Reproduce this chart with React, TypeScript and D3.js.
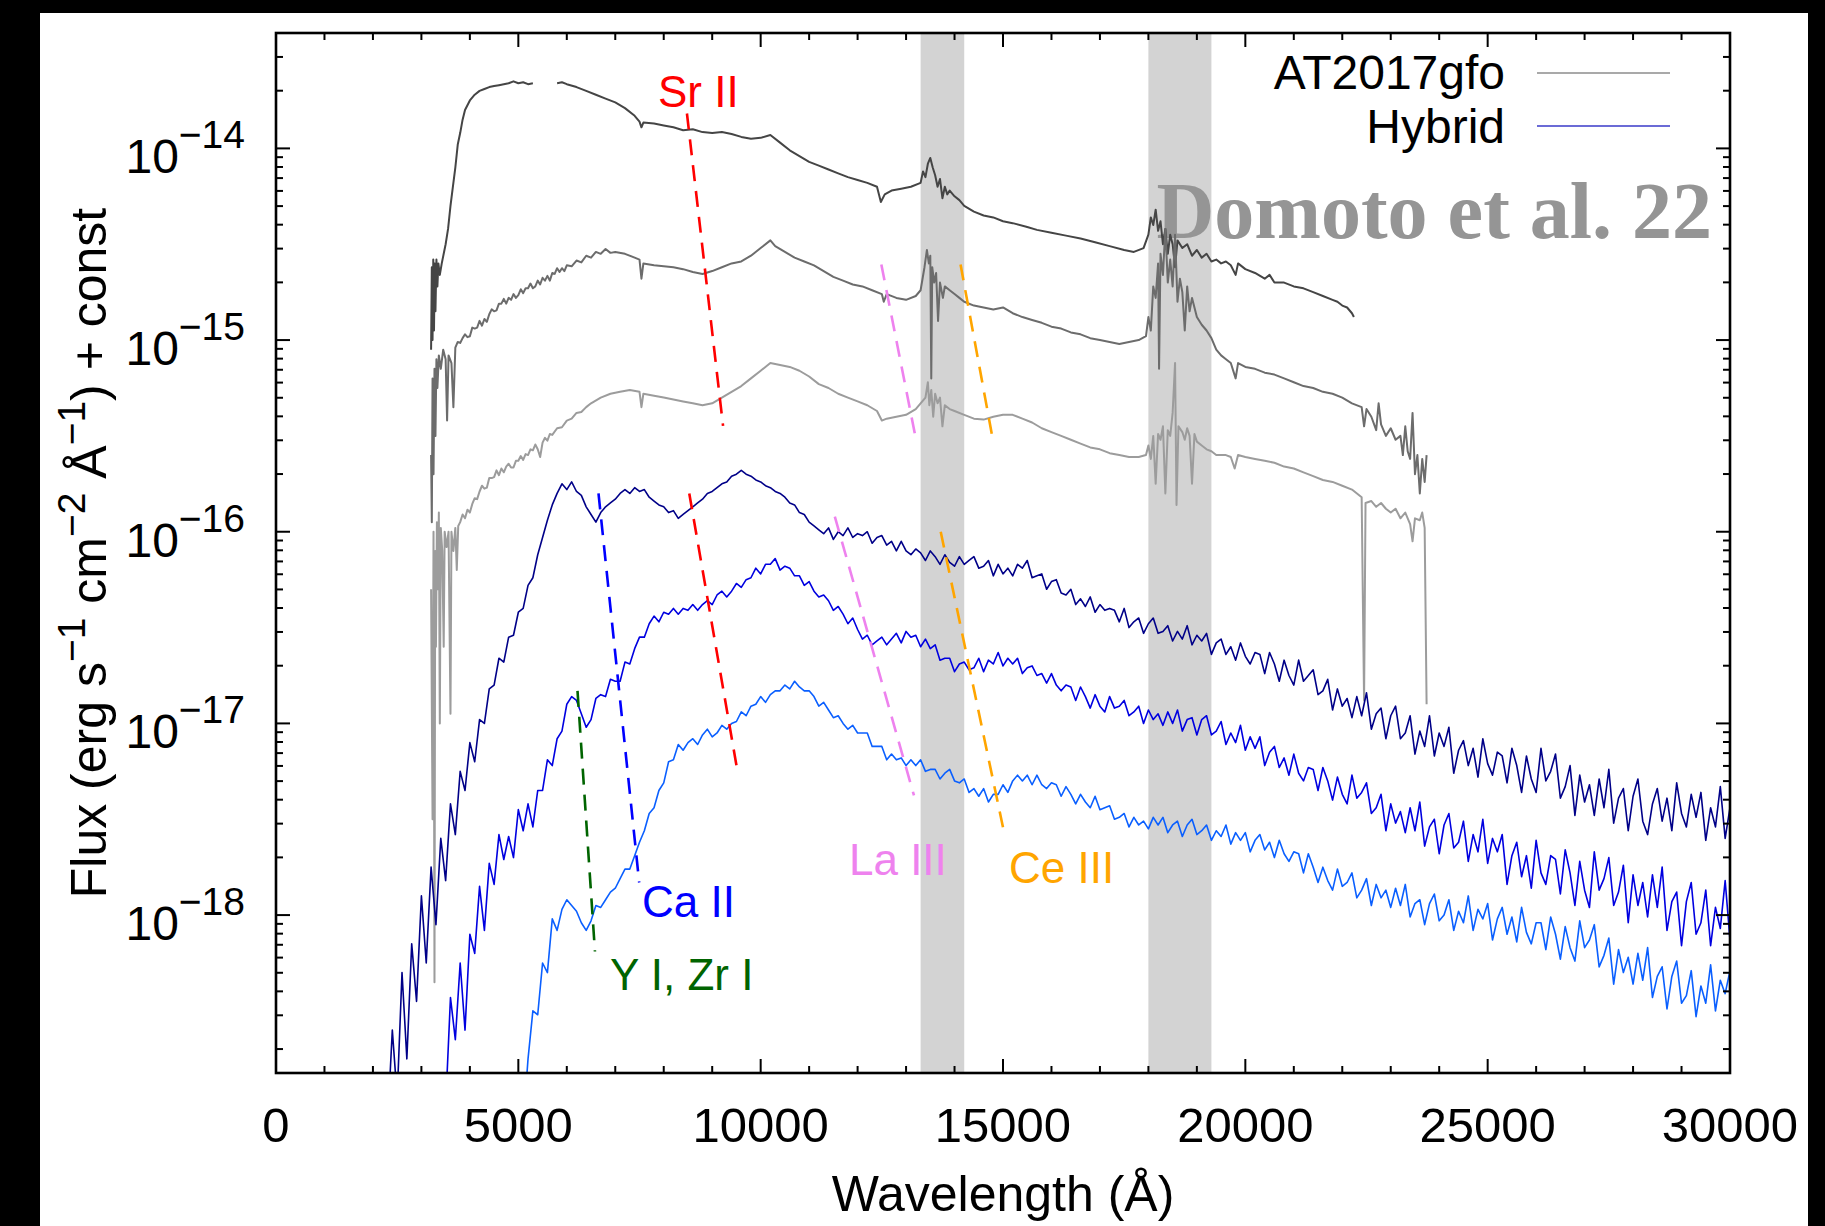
import React from "react";
import * as d3 from "d3";

// ---------------- DATA ----------------
const xDomain: [number, number] = [0, 30000];
const yDomain: [number, number] = [1.5e-19, 4e-14];
const xMajorTicks = [0, 5000, 10000, 15000, 20000, 25000, 30000];
const xTickLabels = ["0", "5000", "10000", "15000", "20000", "25000", "30000"];
const yLabelExponents = [-14, -15, -16, -17, -18];
const yTickLabels = ["−14", "−15", "−16", "−17", "−18"];
const telluricBands: [number, number][] = [[13300, 14200], [18000, 19300]];

// AT2017gfo spectra: [wavelength (Å), log10 flux]
const at2017gfoEpoch1: [number, number | null][] = [
[3200,-15.05],[3215,-14.62],[3230,-15.0],[3245,-14.58],[3260,-14.95],[3275,-14.6],[3290,-14.85],[3310,-14.58],[3330,-14.72],[3350,-14.6],[3380,-14.66],[3420,-14.6],[3460,-14.55],[3500,-14.5],[3550,-14.42],[3600,-14.3],[3650,-14.2],[3700,-14.1],[3750,-13.98],[3800,-13.92],[3850,-13.85],[3900,-13.8],[4000,-13.75],[4100,-13.72],[4200,-13.7],[4300,-13.69],[4400,-13.68],[4500,-13.675],[4600,-13.67],[4700,-13.665],[4800,-13.66],[4900,-13.65],[5000,-13.66],[5100,-13.655],[5200,-13.665],[5300,-13.66],[5500,null],[5800,-13.66],[5900,-13.655],[6000,-13.665],[6200,-13.68],[6400,-13.7],[6600,-13.72],[6800,-13.74],[7000,-13.76],[7200,-13.79],[7400,-13.83],[7500,-13.86],[7540,-13.89],[7580,-13.865],[7800,-13.87],[8000,-13.88],[8200,-13.89],[8400,-13.905],[8600,-13.9],[8800,-13.915],[9000,-13.92],[9200,-13.915],[9400,-13.925],[9600,-13.94],[9800,-13.95],[10000,-13.945],[10200,-13.93],[10400,-13.97],[10600,-14.01],[10800,-14.04],[11000,-14.07],[11200,-14.09],[11400,-14.11],[11600,-14.13],[11800,-14.15],[12000,-14.165],[12200,-14.18],[12400,-14.2],[12480,-14.28],[12560,-14.24],[12700,-14.22],[12900,-14.21],[13100,-14.2],[13300,-14.18],[13350,-14.12],[13400,-14.15],[13450,-14.08],[13500,-14.05],[13550,-14.1],[13600,-14.14],[13650,-14.2],[13700,-14.16],[13750,-14.26],[13800,-14.2],[13850,-14.24],[13900,-14.22],[14000,-14.25],[14100,-14.27],[14200,-14.3],[14400,-14.33],[14600,-14.35],[14800,-14.36],[15000,-14.38],[15200,-14.39],[15500,-14.41],[15700,-14.425],[16000,-14.44],[16300,-14.455],[16600,-14.47],[16900,-14.49],[17200,-14.51],[17500,-14.53],[17700,-14.54],[17900,-14.52],[18000,-14.45],[18050,-14.36],[18100,-14.4],[18150,-14.32],[18200,-14.43],[18250,-14.38],[18300,-14.5],[18350,-14.42],[18400,-14.55],[18450,-14.45],[18500,-14.5],[18550,-14.62],[18600,-14.48],[18700,-14.52],[18800,-14.5],[18900,-14.56],[19000,-14.53],[19100,-14.57],[19200,-14.55],[19300,-14.59],[19400,-14.58],[19500,-14.6],[19600,-14.59],[19700,-14.61],[19800,-14.66],[19850,-14.6],[20000,-14.63],[20200,-14.65],[20400,-14.68],[20500,-14.66],[20600,-14.7],[20800,-14.7],[21000,-14.72],[21200,-14.73],[21400,-14.75],[21600,-14.77],[21800,-14.79],[21900,-14.8],[22000,-14.82],[22100,-14.83],[22200,-14.86],[22240,-14.88]
];

const at2017gfoEpoch2: [number, number | null][] = [
[3200,-15.6],[3215,-15.95],[3230,-15.2],[3250,-15.7],[3270,-15.15],[3290,-15.5],[3310,-15.1],[3330,-15.25],[3360,-15.08],[3400,-15.15],[3450,-15.05],[3500,-15.1],[3530,-15.42],[3560,-15.08],[3620,-15.12],[3660,-15.35],[3700,-15.04],[3750,-15.01],[3800,-15.015],[3850,-14.99],[3900,-14.97],[3950,-14.985],[4000,-14.98],[4050,-14.935],[4100,-14.94],[4150,-14.935],[4200,-14.9],[4250,-14.925],[4300,-14.89],[4350,-14.905],[4400,-14.865],[4450,-14.84],[4500,-14.85],[4550,-14.845],[4600,-14.81],[4650,-14.81],[4700,-14.785],[4750,-14.81],[4800,-14.78],[4850,-14.79],[4900,-14.76],[4950,-14.78],[5000,-14.765],[5050,-14.735],[5100,-14.755],[5150,-14.73],[5200,-14.73],[5250,-14.705],[5300,-14.73],[5350,-14.72],[5400,-14.69],[5450,-14.71],[5500,-14.675],[5550,-14.69],[5600,-14.665],[5650,-14.69],[5700,-14.65],[5750,-14.655],[5800,-14.625],[5850,-14.645],[5900,-14.625],[5950,-14.64],[6000,-14.61],[6100,-14.615],[6200,-14.585],[6300,-14.595],[6400,-14.56],[6500,-14.57],[6600,-14.54],[6700,-14.55],[6800,-14.525],[6900,-14.545],[7000,-14.54],[7200,-14.55],[7400,-14.57],[7500,-14.58],[7540,-14.68],[7580,-14.6],[7800,-14.61],[8000,-14.615],[8200,-14.62],[8400,-14.63],[8600,-14.645],[8800,-14.655],[9000,-14.64],[9200,-14.62],[9400,-14.6],[9600,-14.59],[9800,-14.56],[10000,-14.52],[10200,-14.48],[10300,-14.51],[10500,-14.54],[10700,-14.57],[10900,-14.59],[11100,-14.61],[11300,-14.64],[11500,-14.67],[11700,-14.69],[11900,-14.71],[12100,-14.72],[12300,-14.74],[12500,-14.76],[12540,-14.8],[12600,-14.76],[12800,-14.78],[13000,-14.79],[13200,-14.77],[13300,-14.74],[13380,-14.62],[13430,-14.53],[13470,-14.6],[13500,-14.56],[13520,-15.2],[13540,-14.62],[13580,-14.7],[13620,-14.65],[13660,-14.9],[13700,-14.7],[13760,-14.78],[13800,-14.72],[13900,-14.74],[14000,-14.76],[14100,-14.78],[14200,-14.8],[14400,-14.82],[14600,-14.83],[14800,-14.84],[15000,-14.83],[15200,-14.86],[15400,-14.88],[15600,-14.895],[15800,-14.91],[16000,-14.93],[16200,-14.94],[16400,-14.96],[16600,-14.97],[16800,-14.99],[17000,-15.0],[17200,-15.01],[17400,-15.02],[17600,-15.01],[17800,-15.0],[17950,-14.98],[18000,-14.88],[18050,-14.95],[18100,-14.72],[18150,-14.78],[18200,-14.6],[18220,-15.15],[18250,-14.55],[18300,-14.66],[18350,-14.42],[18400,-14.7],[18450,-14.58],[18500,-14.72],[18550,-14.45],[18600,-14.8],[18650,-14.68],[18700,-14.75],[18750,-14.95],[18800,-14.72],[18850,-14.85],[18900,-14.78],[19000,-14.88],[19100,-14.92],[19200,-14.95],[19300,-14.99],[19400,-15.05],[19500,-15.08],[19600,-15.1],[19700,-15.12],[19800,-15.2],[19850,-15.12],[20000,-15.14],[20200,-15.15],[20400,-15.17],[20600,-15.18],[20800,-15.2],[21000,-15.22],[21200,-15.24],[21400,-15.25],[21600,-15.27],[21800,-15.28],[22000,-15.3],[22200,-15.33],[22400,-15.35],[22450,-15.45],[22500,-15.36],[22600,-15.4],[22700,-15.47],[22750,-15.33],[22800,-15.44],[22900,-15.5],[23000,-15.46],[23100,-15.52],[23200,-15.5],[23250,-15.6],[23300,-15.45],[23350,-15.58],[23400,-15.62],[23450,-15.38],[23500,-15.7],[23550,-15.6],[23600,-15.8],[23650,-15.62],[23700,-15.74],[23740,-15.6]
];

const at2017gfoEpoch3: [number, number | null][] = [
[3200,-16.3],[3230,-17.5],[3250,-16.0],[3270,-18.35],[3285,-16.1],[3300,-16.6],[3320,-15.95],[3340,-16.3],[3360,-15.9],[3380,-17.0],[3400,-15.98],[3430,-16.1],[3460,-16.6],[3480,-16.0],[3520,-16.08],[3560,-16.0],[3600,-16.95],[3620,-16.0],[3660,-16.1],[3700,-15.98],[3730,-16.2],[3760,-15.97],[3800,-15.95],[3850,-15.91],[3900,-15.93],[3950,-15.885],[4000,-15.9],[4050,-15.855],[4100,-15.825],[4150,-15.83],[4200,-15.79],[4250,-15.76],[4300,-15.775],[4350,-15.77],[4400,-15.72],[4450,-15.72],[4500,-15.715],[4550,-15.68],[4600,-15.705],[4650,-15.67],[4700,-15.69],[4750,-15.66],[4800,-15.645],[4850,-15.665],[4900,-15.665],[4950,-15.63],[5000,-15.63],[5050,-15.605],[5100,-15.625],[5150,-15.595],[5200,-15.6],[5250,-15.57],[5300,-15.575],[5350,-15.545],[5400,-15.57],[5450,-15.61],[5500,-15.535],[5550,-15.51],[5600,-15.525],[5650,-15.49],[5700,-15.495],[5800,-15.46],[5900,-15.455],[6000,-15.42],[6100,-15.41],[6200,-15.38],[6300,-15.375],[6400,-15.35],[6500,-15.33],[6700,-15.3],[6900,-15.28],[7100,-15.27],[7300,-15.26],[7500,-15.27],[7540,-15.35],[7580,-15.28],[7800,-15.29],[8000,-15.3],[8200,-15.31],[8400,-15.32],[8600,-15.33],[8800,-15.34],[9000,-15.33],[9200,-15.3],[9400,-15.27],[9600,-15.24],[9800,-15.2],[10000,-15.16],[10200,-15.12],[10400,-15.13],[10600,-15.14],[10800,-15.16],[11000,-15.19],[11200,-15.23],[11400,-15.25],[11600,-15.28],[11800,-15.3],[12000,-15.32],[12200,-15.34],[12400,-15.37],[12500,-15.42],[12600,-15.41],[12800,-15.4],[13000,-15.39],[13200,-15.36],[13300,-15.33],[13400,-15.3],[13450,-15.22],[13480,-15.34],[13520,-15.26],[13560,-15.4],[13600,-15.28],[13650,-15.33],[13700,-15.3],[13750,-15.45],[13800,-15.34],[13900,-15.36],[14000,-15.37],[14200,-15.39],[14400,-15.41],[14600,-15.415],[14800,-15.4],[15000,-15.39],[15200,-15.39],[15400,-15.41],[15600,-15.43],[15800,-15.46],[16000,-15.48],[16200,-15.5],[16400,-15.52],[16600,-15.54],[16800,-15.56],[17000,-15.57],[17200,-15.59],[17400,-15.6],[17600,-15.61],[17800,-15.61],[17950,-15.6],[18000,-15.55],[18050,-15.62],[18100,-15.5],[18150,-15.75],[18200,-15.49],[18250,-15.52],[18300,-15.45],[18350,-15.8],[18400,-15.47],[18450,-15.5],[18500,-15.38],[18550,-15.12],[18580,-15.86],[18620,-15.45],[18700,-15.48],[18750,-15.52],[18800,-15.46],[18850,-15.5],[18900,-15.75],[18950,-15.49],[19000,-15.53],[19100,-15.55],[19200,-15.57],[19300,-15.58],[19400,-15.6],[19600,-15.6],[19700,-15.61],[19780,-15.67],[19850,-15.6],[20000,-15.61],[20200,-15.62],[20400,-15.63],[20600,-15.64],[20800,-15.66],[21000,-15.67],[21200,-15.69],[21400,-15.71],[21600,-15.73],[21800,-15.74],[22000,-15.76],[22200,-15.78],[22400,-15.82],[22450,-16.88],[22480,-15.85],[22600,-15.84],[22700,-15.87],[22800,-15.85],[22900,-15.88],[23000,-15.9],[23100,-15.88],[23200,-15.93],[23300,-15.9],[23400,-15.96],[23450,-16.05],[23500,-15.93],[23600,-15.94],[23650,-15.9],[23700,-15.98],[23740,-16.9]
];

// Hybrid model spectra, sampled every 100 Å: log10 flux
const gridStep = 100;
const hybridAStart = 2300;
const hybridA = [
-19.1,-18.6,-18.95,-18.3,-18.75,-18.15,-18.45,-17.9,-18.25,-17.75,
-18.05,-17.6,-17.82,-17.42,-17.58,-17.25,-17.35,-17.1,-17.2,-16.98,
-17.0,-16.82,-16.8,-16.66,-16.68,-16.55,-16.54,-16.42,-16.4,-16.28,
-16.24,-16.12,-16.03,-15.94,-15.86,-15.8,-15.75,-15.78,-15.74,-15.79,
-15.81,-15.87,-15.91,-15.95,-15.9,-15.87,-15.85,-15.83,-15.8,-15.78,
-15.8,-15.77,-15.79,-15.78,-15.82,-15.84,-15.86,-15.87,-15.9,-15.89,
-15.93,-15.91,-15.89,-15.87,-15.85,-15.83,-15.8,-15.79,-15.77,-15.75,
-15.74,-15.71,-15.7,-15.68,-15.7,-15.71,-15.73,-15.74,-15.76,-15.77,
-15.79,-15.8,-15.82,-15.85,-15.86,-15.9,-15.91,-15.95,-15.97,-15.99,
-16.01,-15.98,-16.04,-16.0,-16.02,-15.98,-16.03,-16.01,-16.02,-16.0,
-16.06,-16.03,-16.02,-16.07,-16.05,-16.10,-16.05,-16.10,-16.12,-16.09,
-16.11,-16.15,-16.10,-16.13,-16.17,-16.12,-16.16,-16.18,-16.13,-16.17,
-16.15,-16.13,-16.19,-16.18,-16.15,-16.23,-16.17,-16.22,-16.19,-16.23,
-16.17,-16.19,-16.15,-16.24,-16.23,-16.22,-16.30,-16.26,-16.25,-16.32,
-16.33,-16.30,-16.38,-16.35,-16.39,-16.34,-16.42,-16.38,-16.41,-16.40,
-16.41,-16.47,-16.40,-16.50,-16.47,-16.45,-16.53,-16.48,-16.45,-16.53,
-16.52,-16.49,-16.57,-16.52,-16.56,-16.49,-16.59,-16.54,-16.57,-16.53,
-16.64,-16.58,-16.56,-16.64,-16.60,-16.67,-16.58,-16.65,-16.69,-16.63,
-16.64,-16.74,-16.63,-16.69,-16.78,-16.67,-16.75,-16.80,-16.67,-16.78,
-16.75,-16.72,-16.85,-16.83,-16.77,-16.93,-16.82,-16.91,-16.87,-16.97,
-16.86,-16.96,-16.84,-17.03,-16.95,-16.92,-17.08,-16.96,-16.91,-17.08,
-17.05,-16.96,-17.16,-17.04,-17.12,-16.96,-17.17,-17.05,-17.12,-17.02,
-17.26,-17.14,-17.09,-17.22,-17.13,-17.28,-17.08,-17.21,-17.27,-17.15,
-17.17,-17.31,-17.13,-17.22,-17.36,-17.17,-17.29,-17.36,-17.13,-17.30,
-17.25,-17.16,-17.39,-17.33,-17.22,-17.48,-17.27,-17.41,-17.32,-17.48,
-17.29,-17.44,-17.24,-17.52,-17.39,-17.34,-17.56,-17.38,-17.29,-17.51,
-17.58,-17.42,-17.34,-17.51,-17.39,-17.56,-17.31,-17.47,-17.54,-17.37,
-17.49,-17.36,-17.61,-17.44,-17.54,-17.33,-17.6,-17.44
];

const hybridBStart = 3400;
const hybridB = [
-18.85,-19.0,-18.43,-18.65,-18.25,-18.6,-18.1,-18.2,-17.85,-18.08,
-17.73,-17.84,-17.58,-17.71,-17.59,-17.7,-17.45,-17.56,-17.42,-17.54,
-17.35,-17.35,-17.19,-17.22,-17.08,-17.04,-16.9,-16.86,-16.88,-16.95,
-17.02,-16.98,-16.87,-16.85,-16.86,-16.77,-16.78,-16.78,-16.68,-16.69,
-16.61,-16.55,-16.55,-16.48,-16.44,-16.47,-16.42,-16.43,-16.40,-16.43,
-16.40,-16.41,-16.38,-16.41,-16.38,-16.36,-16.38,-16.33,-16.31,-16.34,
-16.31,-16.27,-16.29,-16.25,-16.24,-16.19,-16.22,-16.17,-16.17,-16.14,
-16.20,-16.18,-16.19,-16.23,-16.23,-16.28,-16.26,-16.31,-16.34,-16.33,
-16.36,-16.41,-16.39,-16.43,-16.48,-16.45,-16.51,-16.56,-16.54,-16.59,
-16.57,-16.55,-16.59,-16.56,-16.53,-16.58,-16.52,-16.55,-16.54,-16.60,
-16.56,-16.61,-16.59,-16.67,-16.66,-16.66,-16.73,-16.69,-16.68,-16.72,
-16.71,-16.66,-16.73,-16.67,-16.69,-16.63,-16.70,-16.66,-16.69,-16.66,
-16.74,-16.71,-16.70,-16.75,-16.74,-16.79,-16.74,-16.80,-16.83,-16.80,
-16.81,-16.88,-16.81,-16.86,-16.92,-16.85,-16.91,-16.94,-16.86,-16.92,
-16.91,-16.88,-16.96,-16.94,-16.91,-17.00,-16.93,-16.98,-16.95,-17.01,
-16.94,-17.00,-16.93,-17.04,-16.98,-16.97,-17.06,-16.98,-16.96,-17.06,
-17.04,-16.99,-17.11,-17.05,-17.10,-17.01,-17.14,-17.07,-17.13,-17.07,
-17.22,-17.15,-17.12,-17.23,-17.18,-17.27,-17.16,-17.26,-17.30,-17.23,
-17.24,-17.35,-17.23,-17.30,-17.40,-17.28,-17.37,-17.42,-17.27,-17.39,
-17.36,-17.31,-17.47,-17.44,-17.37,-17.56,-17.42,-17.52,-17.46,-17.57,
-17.44,-17.56,-17.41,-17.64,-17.54,-17.50,-17.68,-17.53,-17.47,-17.65,
-17.62,-17.51,-17.72,-17.58,-17.67,-17.50,-17.73,-17.60,-17.67,-17.58,
-17.84,-17.69,-17.62,-17.80,-17.69,-17.86,-17.61,-17.78,-17.84,-17.69,
-17.71,-17.89,-17.66,-17.78,-17.95,-17.72,-17.87,-17.96,-17.67,-17.87,
-17.81,-17.70,-17.95,-17.88,-17.74,-18.04,-17.79,-17.95,-17.83,-18.01,
-17.79,-17.96,-17.75,-18.08,-17.93,-17.88,-18.16,-17.93,-17.83,-18.10,
-18.04,-17.87,-18.16,-17.96,-18.07,-17.82,-18.13
];

const hybridCStart = 5100;
const hybridC = [
-19.1,-18.75,-18.5,-18.52,-18.25,-18.3,-18.02,-18.08,-17.97,-17.92,
-17.95,-17.98,-18.04,-18.08,-18.03,-17.95,-17.96,-17.92,-17.88,-17.86,
-17.81,-17.76,-17.76,-17.69,-17.62,-17.56,-17.47,-17.44,-17.35,-17.31,
-17.20,-17.19,-17.11,-17.14,-17.10,-17.08,-17.11,-17.06,-17.03,-17.07,
-17.05,-17.01,-17.03,-17.00,-16.99,-16.94,-16.96,-16.91,-16.90,-16.86,
-16.89,-16.85,-16.83,-16.83,-16.80,-16.82,-16.78,-16.81,-16.83,-16.83,
-16.86,-16.91,-16.89,-16.93,-16.97,-16.96,-17.00,-17.03,-17.01,-17.05,
-17.05,-17.05,-17.12,-17.12,-17.12,-17.19,-17.16,-17.19,-17.18,-17.22,
-17.19,-17.22,-17.19,-17.25,-17.24,-17.24,-17.29,-17.26,-17.24,-17.30,
-17.31,-17.29,-17.36,-17.34,-17.38,-17.34,-17.41,-17.37,-17.37,-17.32,
-17.36,-17.30,-17.27,-17.30,-17.27,-17.32,-17.27,-17.32,-17.34,-17.31,
-17.32,-17.38,-17.33,-17.37,-17.42,-17.37,-17.41,-17.44,-17.38,-17.45,
-17.44,-17.43,-17.50,-17.49,-17.47,-17.54,-17.49,-17.53,-17.51,-17.55,
-17.49,-17.53,-17.49,-17.57,-17.53,-17.51,-17.59,-17.53,-17.50,-17.58,
-17.56,-17.53,-17.61,-17.56,-17.59,-17.53,-17.63,-17.57,-17.61,-17.57,
-17.67,-17.61,-17.58,-17.66,-17.62,-17.70,-17.61,-17.68,-17.72,-17.67,
-17.68,-17.78,-17.68,-17.75,-17.83,-17.75,-17.82,-17.87,-17.76,-17.85,
-17.83,-17.78,-17.91,-17.87,-17.81,-17.95,-17.84,-17.91,-17.87,-17.96,
-17.86,-17.95,-17.84,-18.01,-17.94,-17.92,-18.05,-17.94,-17.89,-18.03,
-18.00,-17.92,-18.08,-17.98,-18.04,-17.90,-18.08,-17.97,-18.02,-17.94,
-18.13,-18.02,-17.96,-18.10,-18.01,-18.14,-17.96,-18.09,-18.15,-18.04,
-18.04,-18.18,-18.01,-18.10,-18.23,-18.06,-18.17,-18.24,-18.03,-18.17,
-18.13,-18.05,-18.27,-18.21,-18.12,-18.36,-18.18,-18.30,-18.22,-18.36,
-18.20,-18.34,-18.17,-18.43,-18.32,-18.27,-18.49,-18.32,-18.24,-18.46,
-18.42,-18.29,-18.53,-18.37,-18.46,-18.26,-18.50,-18.34,-18.41,-18.29
];

// line identifications: dashed segments [λ, log10 flux]
const lineIdNames = ["Sr II", "Ca II", "Y I, Zr I", "La III", "Ce III"];
const lineIdSegments: [number, number][][][] = [
  [[[8479, -13.818], [9224, -15.448]], [[8527, -15.80], [9512, -17.236]]],
  [[[6654, -15.80], [7494, -17.83]]],
  [[[6221, -16.83], [6581, -18.19]]],
  [[[12490, -14.606], [13211, -15.527]], [[11530, -15.921], [13163, -17.376]]],
  [[[14124, -14.606], [14796, -15.527]], [[13715, -16.0], [15013, -17.558]]],
];
const lineIdLabelAt: [number, number][] = [
  [7882, -13.784], [7551, -18.01], [6891, -18.391], [11822, -17.791], [15124, -17.833],
];
const legendNames = ["AT2017gfo", "Hybrid"];

// ---------------- STYLE ----------------
const W = 1825;
const H = 1226;
const P = { left: 276, right: 1730, top: 33, bottom: 1073 };
const lineIdColors = ["#ff0000", "#0000ff", "#006400", "#ee82ee", "#ffa500"];
const atColors = ["#454545", "#6c6c6c", "#9c9c9c"];
const hybridColors = ["#000088", "#0000e0", "#0a5fff"];
const sans = "'Liberation Sans', Arial, Helvetica, sans-serif";

export default function App() {
  const x = d3.scaleLinear().domain(xDomain).range([P.left, P.right]);
  const y = d3.scaleLog().domain(yDomain).range([P.bottom, P.top]);

  const line = d3
    .line<[number, number | null]>()
    .defined((d) => d[1] !== null)
    .x((d) => x(d[0]))
    .y((d) => y(Math.pow(10, d[1] as number)));

  const grid = (start: number, vals: number[]) =>
    vals.map((v, i) => [start + i * gridStep, v] as [number, number]);

  const atSeries = [at2017gfoEpoch1, at2017gfoEpoch2, at2017gfoEpoch3];
  const hybridSeries = [
    grid(hybridAStart, hybridA),
    grid(hybridBStart, hybridB),
    grid(hybridCStart, hybridC),
  ];

  const xMinor = d3.range(0, 30001, 1000).filter((v) => v % 5000 !== 0);
  const yTicks: { v: number; major: boolean }[] = [];
  for (let e = -19; e <= -14; e++) {
    for (let k = 1; k <= 9; k++) {
      const v = k * Math.pow(10, e);
      if (v >= yDomain[0] && v <= yDomain[1]) yTicks.push({ v, major: k === 1 });
    }
  }

  const seg = d3
    .line<[number, number]>()
    .x((d) => x(d[0]))
    .y((d) => y(Math.pow(10, d[1])));

  return (
    <svg
      width={W}
      height={H}
      viewBox={`0 0 ${W} ${H}`}
      style={{ position: "absolute", left: 0, top: 0, display: "block" }}
    >
      <rect x={0} y={0} width={W} height={H} fill="#000" />
      <rect x={40} y={13} width={1768} height={H - 13} fill="#fff" />
      <defs>
        <clipPath id="plotArea">
          <rect x={P.left} y={P.top} width={P.right - P.left} height={P.bottom - P.top} />
        </clipPath>
      </defs>

      {telluricBands.map(([a, b], i) => (
        <rect key={"band" + i} x={x(a)} y={P.top} width={x(b) - x(a)} height={P.bottom - P.top} fill="#d3d3d3" />
      ))}

      <text
        x={1712}
        y={238}
        textAnchor="end"
        fontFamily="'Liberation Serif', 'Times New Roman', serif"
        fontWeight="bold"
        fontSize={80}
        fill="#959595"
      >
        Domoto et al. 22
      </text>

      <g clipPath="url(#plotArea)" fill="none" strokeLinejoin="round">
        {atSeries.map((s, i) => (
          <path key={"at" + i} d={line(s) || ""} stroke={atColors[i]} strokeWidth={2} />
        ))}
        {hybridSeries.map((s, i) => (
          <path key={"hy" + i} d={line(s) || ""} stroke={hybridColors[i]} strokeWidth={1.6} />
        ))}
        {lineIdSegments.map((segs, i) =>
          segs.map((s, j) => (
            <path
              key={"id" + i + "_" + j}
              d={seg(s) || ""}
              stroke={lineIdColors[i]}
              strokeWidth={2.6}
              strokeDasharray="16,10"
            />
          ))
        )}
      </g>

      {lineIdNames.map((n, i) => (
        <text
          key={"lab" + i}
          x={x(lineIdLabelAt[i][0])}
          y={y(Math.pow(10, lineIdLabelAt[i][1]))}
          fontFamily={sans}
          fontSize={44}
          fill={lineIdColors[i]}
        >
          {n}
        </text>
      ))}

      {/* frame */}
      <rect
        x={P.left}
        y={P.top}
        width={P.right - P.left}
        height={P.bottom - P.top}
        fill="none"
        stroke="#000"
        strokeWidth={2.6}
      />

      {/* ticks */}
      <g stroke="#000" strokeWidth={2}>
        {xMajorTicks.map((v) => (
          <g key={"xM" + v}>
            <line x1={x(v)} x2={x(v)} y1={P.bottom} y2={P.bottom - 14} />
            <line x1={x(v)} x2={x(v)} y1={P.top} y2={P.top + 14} />
          </g>
        ))}
        {xMinor.map((v) => (
          <g key={"xm" + v}>
            <line x1={x(v)} x2={x(v)} y1={P.bottom} y2={P.bottom - 7} />
            <line x1={x(v)} x2={x(v)} y1={P.top} y2={P.top + 7} />
          </g>
        ))}
        {yTicks.map((t, i) => (
          <g key={"y" + i}>
            <line x1={P.left} x2={P.left + (t.major ? 14 : 7)} y1={y(t.v)} y2={y(t.v)} />
            <line x1={P.right} x2={P.right - (t.major ? 14 : 7)} y1={y(t.v)} y2={y(t.v)} />
          </g>
        ))}
      </g>

      {/* tick labels */}
      {xMajorTicks.map((v, i) => (
        <text key={"xl" + v} x={x(v)} y={1142} textAnchor="middle" fontFamily={sans} fontSize={49} fill="#000">
          {xTickLabels[i]}
        </text>
      ))}
      {yLabelExponents.map((e, i) => (
        <text
          key={"yl" + e}
          x={245}
          y={y(Math.pow(10, e)) + 25}
          textAnchor="end"
          fontFamily={sans}
          fontSize={48}
          fill="#000"
        >
          10
          <tspan dy={-25} fontSize={39}>
            {yTickLabels[i]}
          </tspan>
        </text>
      ))}

      {/* axis titles */}
      <text x={(P.left + P.right) / 2} y={1211} textAnchor="middle" fontFamily={sans} fontSize={50} fill="#000">
        Wavelength (Å)
      </text>
      <text
        transform={`translate(106, ${(P.top + P.bottom) / 2}) rotate(-90)`}
        textAnchor="middle"
        fontFamily={sans}
        fontSize={50}
        fill="#000"
      >
        Flux (erg s
        <tspan dy={-21} fontSize={39}>−1</tspan>
        <tspan dy={21}> cm</tspan>
        <tspan dy={-21} fontSize={39}>−2</tspan>
        <tspan dy={21}> Å</tspan>
        <tspan dy={-21} fontSize={39}>−1</tspan>
        <tspan dy={21}>) + const</tspan>
      </text>

      {/* legend */}
      <text x={1505} y={89} textAnchor="end" fontFamily={sans} fontSize={48} fill="#000">
        {legendNames[0]}
      </text>
      <line x1={1537} x2={1670} y1={73} y2={73} stroke="#8c8c8c" strokeWidth={1.5} />
      <text x={1505} y={143} textAnchor="end" fontFamily={sans} fontSize={48} fill="#000">
        {legendNames[1]}
      </text>
      <line x1={1537} x2={1670} y1={126} y2={126} stroke="#3a3ac8" strokeWidth={1.5} />
    </svg>
  );
}
